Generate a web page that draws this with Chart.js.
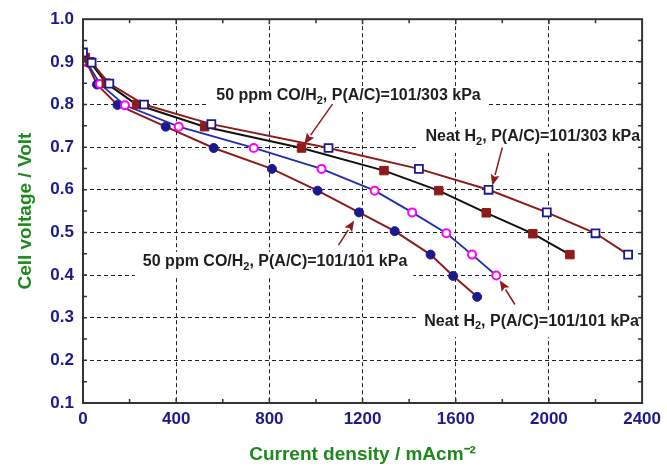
<!DOCTYPE html>
<html>
<head>
<meta charset="utf-8">
<script src="https://cdn.jsdelivr.net/npm/chart.js@4"></script>
<style>
  html, body { margin: 0; padding: 0; background: #fff; }
  #wrap { width: 667px; height: 466px; }
</style>
</head>
<body>
<div id="wrap"><canvas id="polChart"></canvas></div>
<script>
// current density (mA/cm2) and cell voltage (V)
const neat303X = [0, 37, 113, 262, 551, 1054, 1442, 1741, 1991, 2200, 2340];
const neat303Y = [0.922, 0.898, 0.849, 0.800, 0.754, 0.698, 0.649, 0.600, 0.547, 0.498, 0.448];

const co303X = [10, 30, 100, 230, 522, 938, 1292, 1527, 1731, 1931, 2090];
const co303Y = [0.91, 0.90, 0.85, 0.80, 0.748, 0.698, 0.645, 0.598, 0.546, 0.497, 0.448];

const neat101X = [8, 16, 73, 180, 411, 733, 1024, 1252, 1413, 1560, 1670, 1774];
const neat101Y = [0.91, 0.90, 0.848, 0.798, 0.748, 0.698, 0.649, 0.598, 0.547, 0.498, 0.448, 0.399];

const co101X = [5, 15, 60, 148, 355, 561, 811, 1007, 1185, 1338, 1492, 1589, 1692];
const co101Y = [0.91, 0.90, 0.847, 0.799, 0.748, 0.698, 0.649, 0.598, 0.547, 0.503, 0.448, 0.398, 0.349];

const xTicks = [0, 400, 800, 1200, 1600, 2000, 2400];
const yTicks = [0.1, 0.2, 0.3, 0.4, 0.5, 0.6, 0.7, 0.8, 0.9, 1.0];

const NAVY = '#1a1a8c';
const DARKRED = '#8e1a1a';
const GREEN = '#1b8a1b';

function pts(xs, ys) {
    return xs.map((x, i) => ({ x: x, y: ys[i] }));
}

// labels with arrows, in data units: text left/middle, arrow tail, arrow head
const notes = [
    { parts: ['50 ppm CO/H', '2', ', P(A/C)=101/303 kPa'], tx: 572, ty: 0.820, ax: 1071, ay: 0.801, bx: 950, by: 0.707 },
    { parts: ['Neat H', '2', ', P(A/C)=101/303 kPa'], tx: 1470, ty: 0.724, ax: 1800, ay: 0.699, bx: 1757, by: 0.610 },
    { parts: ['50 ppm CO/H', '2', ', P(A/C)=101/101 kPa'], tx: 257, ty: 0.431, ax: 1097, ay: 0.470, bx: 1164, by: 0.528 },
    { parts: ['Neat H', '2', ', P(A/C)=101/101 kPa'], tx: 1465, ty: 0.292, ax: 1854, ay: 0.331, bx: 1789, by: 0.388 }
];

const NOTE_FONT = 'bold 16px "Liberation Sans", Arial, sans-serif';
const SUB_FONT = 'bold 11px "Liberation Sans", Arial, sans-serif';

function noteWidth(ctx, parts) {
    ctx.font = NOTE_FONT;
    let w = ctx.measureText(parts[0]).width + ctx.measureText(parts[2]).width;
    ctx.font = SUB_FONT;
    w += ctx.measureText(parts[1]).width;
    return w;
}

const framePlugin = {
    id: 'frame',
    beforeDatasetsDraw(chart) {
        const ctx = chart.ctx;
        const xs = chart.scales.x, ys = chart.scales.y;
        ctx.save();
        ctx.fillStyle = '#fff';
        notes.forEach(n => {
            const x = xs.getPixelForValue(n.tx);
            const y = ys.getPixelForValue(n.ty);
            const w = noteWidth(ctx, n.parts);
            ctx.fillRect(x - 8, y - 10, w + 14, 26);
        });
        ctx.restore();
    },
    afterDatasetsDraw(chart) {
        const ctx = chart.ctx;
        const a = chart.chartArea;
        const xs = chart.scales.x, ys = chart.scales.y;
        ctx.save();

        // labels
        ctx.fillStyle = '#1e1e1e';
        ctx.textBaseline = 'middle';
        ctx.textAlign = 'left';
        notes.forEach(n => {
            let x = xs.getPixelForValue(n.tx);
            const y = ys.getPixelForValue(n.ty);
            ctx.font = NOTE_FONT;
            ctx.fillText(n.parts[0], x, y);
            x += ctx.measureText(n.parts[0]).width;
            ctx.font = SUB_FONT;
            ctx.fillText(n.parts[1], x, y + 5);
            x += ctx.measureText(n.parts[1]).width;
            ctx.font = NOTE_FONT;
            ctx.fillText(n.parts[2], x, y);
        });

        // arrows
        ctx.strokeStyle = DARKRED;
        ctx.fillStyle = DARKRED;
        ctx.lineWidth = 1.5;
        notes.forEach(n => {
            const x0 = xs.getPixelForValue(n.ax), y0 = ys.getPixelForValue(n.ay);
            const x1 = xs.getPixelForValue(n.bx), y1 = ys.getPixelForValue(n.by);
            const ang = Math.atan2(y1 - y0, x1 - x0);
            const hl = 11, hw = 4.5;
            const bx = x1 - hl * Math.cos(ang), by = y1 - hl * Math.sin(ang);
            ctx.beginPath();
            ctx.moveTo(x0, y0);
            ctx.lineTo(bx, by);
            ctx.stroke();
            ctx.beginPath();
            ctx.moveTo(x1, y1);
            ctx.lineTo(bx + hw * Math.sin(ang), by - hw * Math.cos(ang));
            ctx.lineTo(bx + 2 * Math.cos(ang), by + 2 * Math.sin(ang));
            ctx.lineTo(bx - hw * Math.sin(ang), by + hw * Math.cos(ang));
            ctx.closePath();
            ctx.fill();
        });

        // frame + inward ticks
        ctx.strokeStyle = '#333';
        ctx.lineWidth = 1.5;
        for (let v = 200; v < 2400; v += 200) {
            const px = xs.getPixelForValue(v);
            const len = v % 400 === 0 ? 5 : 4;
            ctx.beginPath();
            ctx.moveTo(px, a.bottom); ctx.lineTo(px, a.bottom - len);
            ctx.moveTo(px, a.top); ctx.lineTo(px, a.top + len);
            ctx.stroke();
        }
        for (let k = 3; k < 20; k++) {
            const py = ys.getPixelForValue(k * 0.05);
            ctx.beginPath();
            ctx.moveTo(a.left, py); ctx.lineTo(a.left + 4, py);
            ctx.moveTo(a.right, py); ctx.lineTo(a.right - 4, py);
            ctx.stroke();
        }
        ctx.lineWidth = 2;
        ctx.strokeRect(a.left, a.top, a.right - a.left, a.bottom - a.top);
        ctx.restore();
    }
};

const ctx = document.getElementById('polChart').getContext('2d');

window.polChart = new Chart(ctx, {
    type: 'scatter',
    data: {
        datasets: [
            {
                label: 'Neat H2, 101/303 kPa',
                data: pts(neat303X, neat303Y),
                showLine: true,
                borderColor: DARKRED,
                borderWidth: 2,
                pointStyle: 'rect',
                pointRadius: 5.6,
                pointBorderWidth: 1.8,
                pointBorderColor: NAVY,
                pointBackgroundColor: '#fff'
            },
            {
                label: '50 ppm CO/H2, 101/303 kPa',
                data: pts(co303X, co303Y),
                showLine: true,
                borderColor: '#111',
                borderWidth: 2,
                pointStyle: 'rect',
                pointRadius: 6,
                pointBorderWidth: 1,
                pointBorderColor: DARKRED,
                pointBackgroundColor: DARKRED
            },
            {
                label: 'Neat H2, 101/101 kPa',
                data: pts(neat101X, neat101Y),
                showLine: true,
                borderColor: '#1f2fb0',
                borderWidth: 1.8,
                pointStyle: 'circle',
                pointRadius: 4,
                pointBorderWidth: 2,
                pointBorderColor: '#ff00ff',
                pointBackgroundColor: '#fff'
            },
            {
                label: '50 ppm CO/H2, 101/101 kPa',
                data: pts(co101X, co101Y),
                showLine: true,
                borderColor: DARKRED,
                borderWidth: 2,
                pointStyle: 'circle',
                pointRadius: 4.5,
                pointBorderWidth: 1,
                pointBorderColor: NAVY,
                pointBackgroundColor: NAVY
            }
        ]
    },
    options: {
        responsive: true,
        maintainAspectRatio: false,
        animation: false,
        layout: { padding: { top: 18, right: 21, left: 0, bottom: 0 } },
        scales: {
            x: {
                type: 'linear',
                min: 0,
                max: 2400,
                afterFit: s => { s.height = 63; },
                afterBuildTicks: s => { s.ticks = xTicks.map(v => ({ value: v })); },
                border: { display: false, dash: [4, 3] },
                grid: {
                    drawTicks: false,
                    lineWidth: 1,
                    color: c => (c.tick && c.tick.value > 0 && c.tick.value < 2400) ? '#222' : 'rgba(0,0,0,0)'
                },
                ticks: {
                    padding: 6,
                    color: NAVY,
                    maxRotation: 0,
                    callback: v => String(v),
                    font: { family: '"Liberation Sans", Arial, sans-serif', size: 17, weight: 'bold' }
                },
                title: {
                    display: true,
                    text: 'Current density / mAcm\u207B\u00B2',
                    color: GREEN,
                    padding: { top: 0, bottom: 0 },
                    font: { family: '"Liberation Sans", Arial, sans-serif', size: 19, weight: 'bold' }
                }
            },
            y: {
                type: 'linear',
                min: 0.1,
                max: 1.0,
                afterFit: s => { s.width = 83; },
                afterBuildTicks: s => { s.ticks = yTicks.map(v => ({ value: v })); },
                border: { display: false, dash: [4, 3] },
                grid: {
                    drawTicks: false,
                    lineWidth: 1,
                    color: c => (c.tick && c.tick.value > 0.15 && c.tick.value < 0.95) ? '#222' : 'rgba(0,0,0,0)'
                },
                ticks: {
                    padding: 9,
                    color: NAVY,
                    callback: v => Number(v).toFixed(1),
                    font: { family: '"Liberation Sans", Arial, sans-serif', size: 17, weight: 'bold' }
                },
                title: {
                    display: true,
                    text: 'Cell voltage / Volt',
                    color: GREEN,
                    padding: { top: 14, bottom: 0 },
                    font: { family: '"Liberation Sans", Arial, sans-serif', size: 19, weight: 'bold' }
                }
            }
        },
        plugins: {
            legend: { display: false },
            tooltip: { enabled: false }
        }
    },
    plugins: [framePlugin]
});
</script>
</body>
</html>
